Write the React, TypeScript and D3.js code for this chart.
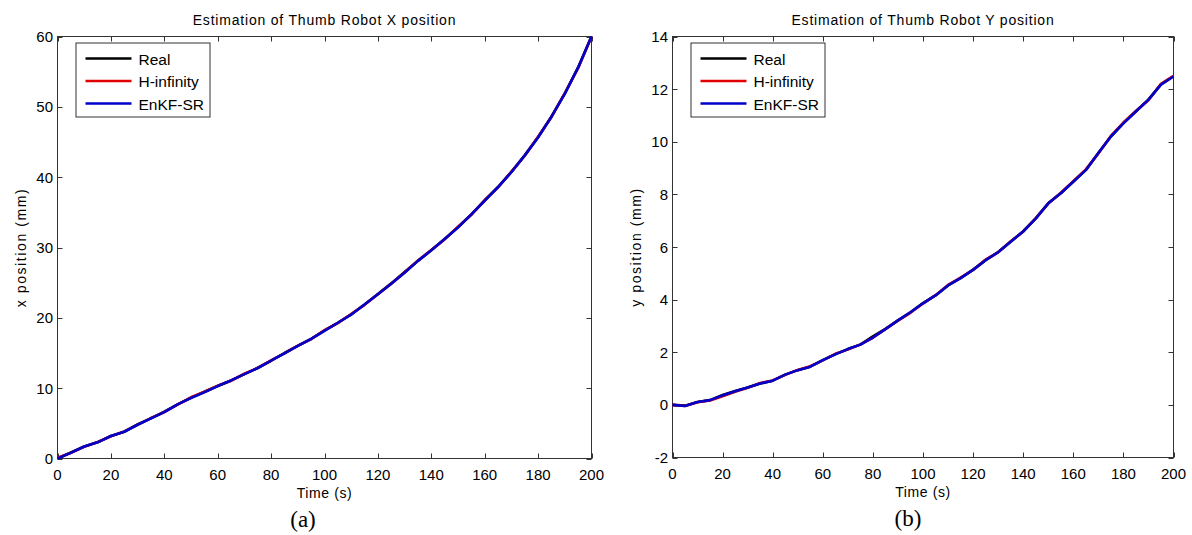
import React, { useRef, useEffect } from "react"
import * as d3 from "d3"

// time axis, 5 s steps
const time = [0, 5, 10, 15, 20, 25, 30, 35, 40, 45, 50, 55, 60, 65, 70, 75, 80, 85, 90, 95, 100,
  105, 110, 115, 120, 125, 130, 135, 140, 145, 150, 155, 160, 165, 170, 175, 180, 185, 190, 195, 200]

// X position (mm)
const xReal = [0, 0.85, 1.7, 2.3, 3.2, 3.8, 4.85, 5.7, 6.65, 7.7, 8.65, 9.5, 10.3, 11.1, 12.0, 12.9, 13.9, 15.0, 16.0, 17.0, 18.2,
  19.3, 20.5, 21.9, 23.4, 24.9, 26.5, 28.1, 29.6, 31.2, 32.9, 34.7, 36.7, 38.6, 40.75, 43.1, 45.7, 48.6, 51.9, 55.6, 60]
const xHinf = [0.1, 0.8, 1.65, 2.35, 3.15, 3.85, 4.8, 5.75, 6.6, 7.65, 8.7, 9.45, 10.35, 11.05, 12.05, 12.85, 13.95, 14.95, 16.05, 16.95, 18.25,
  19.25, 20.55, 21.85, 23.35, 24.85, 26.45, 28.15, 29.65, 31.15, 32.95, 34.65, 36.75, 38.55, 40.8, 43.05, 45.75, 48.55, 51.95, 55.5, 60]
const xEnkf = [0, 0.8, 1.7, 2.3, 3.2, 3.8, 4.8, 5.7, 6.6, 7.7, 8.6, 9.4, 10.3, 11.1, 12.0, 12.85, 13.9, 14.95, 16.0, 17.0, 18.15,
  19.3, 20.45, 21.9, 23.35, 24.85, 26.4, 28.1, 29.6, 31.2, 32.85, 34.7, 36.65, 38.6, 40.7, 43.1, 45.65, 48.6, 51.85, 55.6, 60]

// Y position (mm)
const yReal = [0, -0.03, 0.11, 0.18, 0.38, 0.53, 0.66, 0.81, 0.92, 1.15, 1.32, 1.45, 1.7, 1.93, 2.12, 2.29, 2.6, 2.89, 3.21, 3.52, 3.87,
  4.16, 4.54, 4.82, 5.14, 5.5, 5.81, 6.2, 6.6, 7.09, 7.66, 8.04, 8.49, 8.93, 9.57, 10.2, 10.71, 11.16, 11.6, 12.18, 12.49]
const yHinf = [0, -0.04, 0.1, 0.17, 0.33, 0.5, 0.65, 0.83, 0.93, 1.14, 1.33, 1.47, 1.69, 1.94, 2.1, 2.3, 2.55, 2.88, 3.2, 3.5, 3.85,
  4.17, 4.56, 4.84, 5.13, 5.52, 5.8, 6.22, 6.58, 7.1, 7.65, 8.06, 8.5, 8.95, 9.55, 10.22, 10.73, 11.17, 11.58, 12.2, 12.5]
const yEnkf = [0, -0.04, 0.11, 0.18, 0.36, 0.52, 0.66, 0.81, 0.92, 1.15, 1.32, 1.45, 1.7, 1.92, 2.12, 2.29, 2.56, 2.88, 3.21, 3.52, 3.86,
  4.16, 4.54, 4.82, 5.13, 5.5, 5.8, 6.2, 6.59, 7.08, 7.66, 8.04, 8.48, 8.92, 9.57, 10.2, 10.7, 11.15, 11.6, 12.17, 12.48]

const seriesNames = ["Real", "H-infinity", "EnKF-SR"]
const seriesColors = ["#000000", "#e00000", "#0000cc"]

const xTicks = [0, 20, 40, 60, 80, 100, 120, 140, 160, 180, 200]
const xPosTicks = [0, 10, 20, 30, 40, 50, 60]
const yPosTicks = [-2, 0, 2, 4, 6, 8, 10, 12, 14]

const font = "'Liberation Sans', Arial, sans-serif"

type PanelProps = {
  left: number
  right: number
  top: number
  bottom: number
  yDomain: [number, number]
  yTicks: number[]
  series: number[][]
  title: string
  yLabel: string
  yLabelX: number
  caption: string
  captionX: number
}

const Panel = ({ left, right, top, bottom, yDomain, yTicks, series, title, yLabel, yLabelX, caption, captionX }: PanelProps) => {
  const gRef = useRef<SVGGElement>(null)

  useEffect(() => {
    const g = d3.select(gRef.current)
    g.selectAll("*").remove()

    const xScale = d3.scaleLinear().domain([0, 200]).range([left, right])
    const yScale = d3.scaleLinear().domain(yDomain).range([bottom, top])
    const tick = 5
    const axisColor = "#333"

    // box
    g.append("rect")
      .attr("x", left).attr("y", top)
      .attr("width", right - left).attr("height", bottom - top)
      .attr("fill", "white").attr("stroke", axisColor).attr("stroke-width", 1)

    // ticks
    xTicks.forEach(t => {
      const x = Math.round(xScale(t)) + 0.5
      g.append("line").attr("x1", x).attr("x2", x).attr("y1", bottom).attr("y2", bottom - tick).attr("stroke", axisColor)
      g.append("line").attr("x1", x).attr("x2", x).attr("y1", top).attr("y2", top + tick).attr("stroke", axisColor)
      g.append("text").attr("x", xScale(t)).attr("y", bottom + 21)
        .attr("text-anchor", "middle").attr("font-family", font).attr("font-size", 15).attr("fill", "#000")
        .text(t)
    })
    yTicks.forEach(t => {
      const y = Math.round(yScale(t)) + 0.5
      g.append("line").attr("x1", left).attr("x2", left + tick).attr("y1", y).attr("y2", y).attr("stroke", axisColor)
      g.append("line").attr("x1", right).attr("x2", right - tick).attr("y1", y).attr("y2", y).attr("stroke", axisColor)
      g.append("text").attr("x", left - 4.5).attr("y", yScale(t) + 5.5)
        .attr("text-anchor", "end").attr("font-family", font).attr("font-size", 15).attr("fill", "#000")
        .text(t)
    })

    // lines
    const line = d3.line<number>()
      .x((_, i) => xScale(time[i]))
      .y(d => yScale(d))
      .curve(d3.curveLinear)

    series.forEach((s, i) => {
      g.append("path")
        .attr("d", line(s))
        .attr("fill", "none")
        .attr("stroke", seriesColors[i])
        .attr("stroke-width", 2.6)
        .attr("stroke-linejoin", "round")
    })

    // legend
    const lx = left + 18
    const ly = top + 6
    g.append("rect").attr("x", lx + 0.5).attr("y", ly + 0.5).attr("width", 134).attr("height", 74)
      .attr("fill", "white").attr("stroke", axisColor)
    seriesNames.forEach((name, i) => {
      const y = ly + 16 + i * 22.5
      g.append("line").attr("x1", lx + 10).attr("x2", lx + 56).attr("y1", y).attr("y2", y)
        .attr("stroke", seriesColors[i]).attr("stroke-width", 2.6)
      g.append("text").attr("x", lx + 63).attr("y", y + 6)
        .attr("font-family", font).attr("font-size", 15.5).attr("fill", "#000")
        .text(name)
    })

    // title & labels
    const cx = (left + right) / 2
    g.append("text").attr("x", cx).attr("y", 25).attr("text-anchor", "middle")
      .attr("font-family", font).attr("font-size", 14).attr("letter-spacing", 0.8).text(title)
    g.append("text").attr("x", cx).attr("y", bottom + 39).attr("text-anchor", "middle")
      .attr("font-family", font).attr("font-size", 14).attr("letter-spacing", 0.6).text("Time (s)")
    g.append("text")
      .attr("transform", `translate(${yLabelX}, ${(top + bottom) / 2}) rotate(-90)`)
      .attr("text-anchor", "middle").attr("font-family", font).attr("font-size", 14)
      .attr("letter-spacing", 1.6).text(yLabel)
    g.append("text").attr("x", captionX).attr("y", bottom + 68).attr("text-anchor", "middle")
      .attr("font-family", "'Liberation Serif', 'Times New Roman', serif").attr("font-size", 23).text(caption)
  }, [])

  return <g ref={gRef}></g>
}

export default function App() {
  return (
    <svg width={1192} height={535} style={{ position: "absolute", left: 0, top: 0, background: "white" }}>
      <Panel left={57.5} right={591.5} top={36.5} bottom={458.5} yDomain={[0, 60]} yTicks={xPosTicks}
        series={[xReal, xHinf, xEnkf]} title="Estimation of Thumb Robot X position" yLabel="x position (mm)"
        yLabelX={26} caption="(a)" captionX={303} />
      <Panel left={672.5} right={1173.5} top={36.5} bottom={457.5} yDomain={[-2, 14]} yTicks={yPosTicks}
        series={[yReal, yHinf, yEnkf]} title="Estimation of Thumb Robot Y position" yLabel="y position (mm)"
        yLabelX={641} caption="(b)" captionX={908} />
    </svg>
  )
}
